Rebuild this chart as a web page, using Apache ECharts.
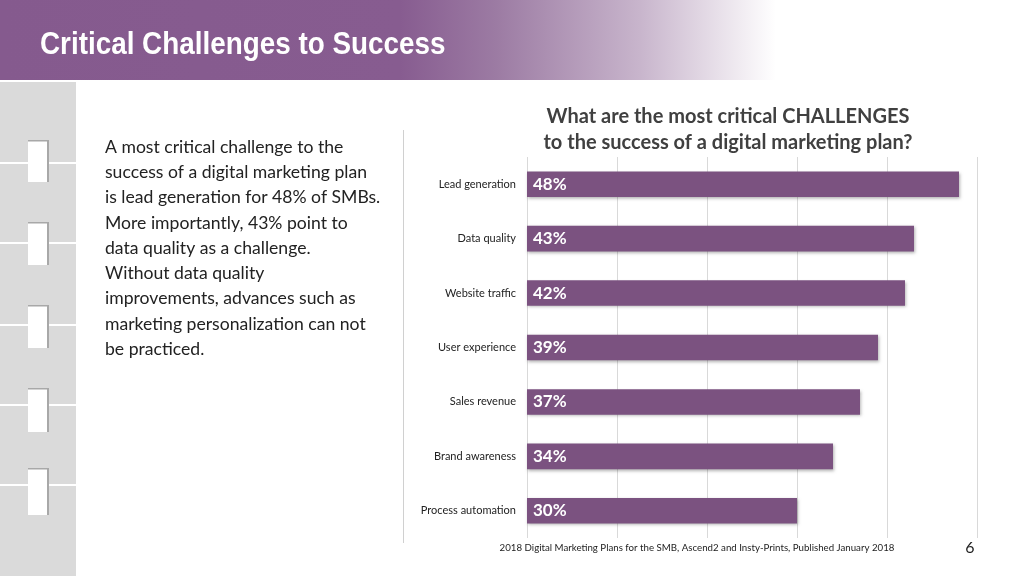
<!DOCTYPE html>
<html><head><meta charset="utf-8">
<script src="https://cdn.jsdelivr.net/npm/echarts@6/dist/echarts.min.js"></script>
<style>html,body{margin:0;padding:0;background:#fff}#c{width:1024px;height:576px}</style>
</head><body><div id="c"></div>
<script>
const categories = ["Lead generation","Data quality","Website traffic","User experience","Sales revenue","Brand awareness","Process automation"];
const values = [48,43,42,39,37,34,30];
const xTicks = [0,10,20,30,40,50];
const pageTitle = "Critical Challenges to Success";
const chartTitle = "What are the most critical CHALLENGES\nto the success of a digital marketing plan?";
const bodyLines = ["A most critical challenge to the","success of a digital marketing plan","is lead generation for 48% of SMBs.","More importantly, 43% point to","data quality as a challenge.","Without data quality","improvements, advances such as","marketing personalization can not","be practiced."];
const sourceText = "2018 Digital Marketing Plans for the SMB, Ascend2 and Insty-Prints, Published January 2018";
const pageNum = "6";

const purple = '#7B5280';
const chart = echarts.init(document.getElementById('c'), null, {renderer:'canvas'});

const graphics = [];
// header band
graphics.push({type:'rect', shape:{x:0,y:0,width:800,height:80}, silent:true,
  style:{fill:new echarts.graphic.LinearGradient(0,0,1,0,[
    {offset:0,color:'#855A8E'},{offset:0.5,color:'#875C90'},{offset:0.62,color:'#9C7BA3'},
    {offset:0.8,color:'#C8B5CC'},{offset:0.97,color:'rgba(255,255,255,1)'},{offset:1,color:'rgba(255,255,255,1)'}])}});
graphics.push({type:'text', x:40, y:45, scaleX:0.87, silent:true,
  style:{text:pageTitle, fill:'#fff', font:'bold 32px "Liberation Sans", Arial, sans-serif', verticalAlign:'middle'}});
// left panel
graphics.push({type:'rect', shape:{x:0,y:82,width:76,height:494}, silent:true, style:{fill:'#DADADA'}});
const gaps = [163,243,325,405,485];
gaps.forEach(g=>graphics.push({type:'rect', shape:{x:0,y:g-1,width:76,height:2}, silent:true, style:{fill:'#FFFFFF'}}));
const tabs = [[140,182],[222,265],[305,348],[388,432],[468,515]];
tabs.forEach(t=>{
  graphics.push({type:'rect', shape:{x:28,y:t[0],width:21,height:t[1]-t[0]}, silent:true, style:{fill:'#A8A8A8'}});
  graphics.push({type:'rect', shape:{x:28,y:t[0]+1.5,width:19,height:t[1]-t[0]-1.5}, silent:true, style:{fill:'#FFFFFF'}});
});
// body text
bodyLines.forEach((l,i)=>graphics.push({type:'text', x:105, y:147+i*25.3, silent:true,
  style:{text:l, fill:'#222', font:'17.6px Lato, sans-serif', verticalAlign:'middle'}}));
// separator
graphics.push({type:'line', shape:{x1:403.5,y1:130,x2:403.5,y2:543}, silent:true, style:{stroke:'#D0D0D0',lineWidth:1}});
// footer
graphics.push({type:'text', x:697, y:548, silent:true,
  style:{text:sourceText, fill:'#222', font:'9.7px Lato, sans-serif', align:'center', verticalAlign:'middle'}});
graphics.push({type:'text', x:970, y:548, silent:true,
  style:{text:pageNum, fill:'#222', font:'16px Lato, sans-serif', align:'center', verticalAlign:'middle'}});

chart.setOption({
  animation:false,
  title:{text:chartTitle, left:723, top:99, textAlign:'center',
    textStyle:{fontFamily:'Lato, sans-serif', fontWeight:'bold', fontSize:20, color:'#404040', lineHeight:26}},
  grid:{left:527, right:47, top:157, bottom:38, containLabel:false},
  xAxis:{type:'value', min:0, max:50, interval:10,
    axisLine:{show:false}, axisTick:{show:false}, axisLabel:{show:false},
    splitLine:{show:true, lineStyle:{color:'#D9D9D9', width:1}}},
  yAxis:{type:'category', data:categories, inverse:true,
    axisLine:{show:false}, axisTick:{show:false},
    axisLabel:{fontFamily:'Lato, sans-serif', fontSize:11, color:'#222', margin:11}},
  series:[{type:'bar', data:values, barWidth:'47%',
    itemStyle:{color:purple, shadowBlur:3, shadowOffsetX:1, shadowOffsetY:1.5, shadowColor:'rgba(0,0,0,0.3)'},
    label:{show:true, position:'insideLeft', distance:6, formatter:'{c}%',
      fontFamily:'Lato, sans-serif', fontWeight:'bold', fontSize:17, color:'#fff'}}],
  graphic:graphics
});
</script></body></html>
